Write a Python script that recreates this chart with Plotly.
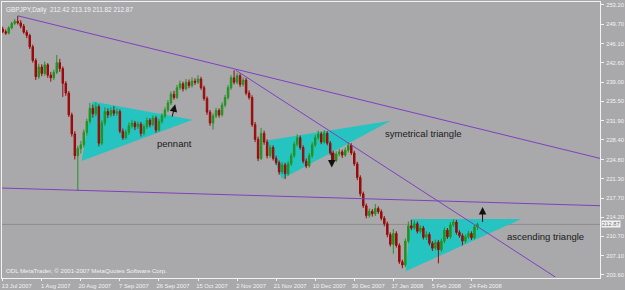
import plotly.graph_objects as go

# ---------------- data ----------------
opens = [248.8, 248.3, 248.0, 249.0, 249.8, 250.2, 249.9, 249.3, 248.2, 247.6,
         245.5, 243.0, 240.0, 241.8, 240.6, 242.2, 240.3, 239.8, 240.8, 242.6,
         241.5, 238.8, 237.0, 233.0, 229.5, 225.5, 226.8, 227.5, 229.8, 231.8,
         234.2, 233.2, 234.5, 227.8, 231.5, 233.6, 233.0, 233.8, 233.3, 233.6,
         230.0, 228.8, 229.8, 231.0, 231.5, 230.8, 231.3, 229.6, 230.8, 232.0,
         231.2, 232.4, 230.2, 231.8, 232.8, 233.9, 235.2, 236.8, 236.2, 238.0,
         238.7, 237.8, 239.0, 238.4, 239.2, 239.0, 239.6, 238.0, 236.0, 233.5,
         231.5, 232.8, 233.8, 233.0, 234.8, 236.2, 238.0, 239.8, 239.0, 240.2,
         238.6, 239.4, 237.0, 236.2, 231.2, 228.5, 225.0, 229.6, 228.0, 225.5,
         227.0, 225.0, 224.2, 222.5, 223.8, 222.2, 224.0, 225.5, 227.6, 228.8,
         227.0, 224.5, 223.6, 225.5, 227.5, 228.8, 229.5, 228.0, 229.6, 227.8,
         226.0, 224.6, 225.8, 226.2, 225.6, 226.5, 227.4, 226.0, 224.0, 221.5,
         218.5, 216.3, 214.5, 215.3, 214.8, 215.8, 215.2, 214.0, 213.0, 211.0,
         209.2, 211.2, 209.0, 206.0, 205.4, 209.8, 212.6, 212.2, 213.0, 211.6,
         212.2, 210.5, 211.0, 209.4, 208.5, 209.6, 208.2, 209.8, 211.8, 210.6,
         212.8, 213.3, 211.4, 210.8, 209.8, 210.6, 211.2, 210.4, 212.42]
highs = [249.2, 248.7, 249.3, 250.1, 250.6, 251.2, 250.4, 249.7, 248.6, 247.9,
         245.9, 243.4, 242.4, 242.3, 242.8, 242.5, 240.9, 241.3, 244.0, 243.3,
         241.9, 239.2, 237.4, 233.4, 230.0, 227.3, 228.2, 230.3, 232.3, 235.2,
         234.9, 235.3, 234.9, 232.0, 234.4, 234.2, 234.4, 234.6, 234.2, 234.0,
         230.5, 230.3, 231.6, 232.1, 231.9, 231.8, 231.7, 231.3, 232.5, 232.4,
         232.9, 232.8, 232.3, 233.3, 234.4, 235.7, 237.3, 237.4, 238.5, 239.3,
         239.1, 239.6, 239.5, 239.9, 239.7, 240.3, 240.0, 238.4, 236.4, 233.9,
         233.3, 234.3, 234.2, 235.3, 236.7, 238.5, 240.3, 241.2, 240.7, 240.6,
         239.9, 239.8, 237.5, 236.6, 231.7, 229.0, 230.6, 230.1, 228.5, 227.5,
         227.4, 225.5, 224.6, 224.3, 224.2, 224.5, 226.0, 228.1, 229.4, 229.2,
         227.4, 225.0, 226.0, 228.0, 229.3, 230.1, 229.9, 230.2, 230.0, 228.2,
         226.4, 226.3, 226.7, 226.6, 227.0, 227.9, 227.8, 226.4, 224.4, 221.9,
         218.9, 216.7, 215.8, 215.7, 216.6, 216.2, 215.6, 214.4, 213.4, 211.4,
         212.0, 211.6, 209.4, 206.4, 210.3, 213.4, 213.7, 213.6, 213.4, 212.7,
         212.6, 211.6, 211.4, 209.8, 210.1, 210.0, 210.3, 212.3, 212.2, 213.3,
         213.8, 213.7, 211.8, 211.2, 211.0, 211.7, 211.6, 212.8, 213.19]
lows = [248.0, 247.7, 247.8, 248.7, 249.5, 249.6, 248.9, 247.9, 247.1, 245.1,
        242.6, 239.4, 239.6, 240.1, 240.2, 239.8, 239.1, 239.4, 240.5, 240.9,
        236.3, 236.5, 232.6, 229.0, 224.8, 219.0, 225.9, 227.0, 229.2, 231.4,
        232.5, 232.8, 227.2, 227.4, 231.0, 232.4, 232.6, 232.8, 232.9, 229.6,
        228.4, 228.5, 229.3, 230.5, 230.2, 230.4, 229.0, 229.2, 230.4, 230.7,
        230.9, 229.7, 229.9, 231.4, 232.4, 233.5, 234.8, 235.8, 235.9, 237.6,
        237.3, 237.5, 237.9, 238.0, 238.5, 238.7, 237.6, 235.6, 233.0, 231.0,
        230.3, 232.4, 232.5, 232.7, 234.4, 235.8, 237.6, 238.6, 238.6, 238.1,
        238.2, 236.6, 235.8, 230.8, 228.0, 224.5, 224.7, 227.5, 225.0, 225.1,
        224.6, 223.8, 222.0, 222.1, 221.2, 221.8, 223.6, 225.1, 227.2, 226.6,
        224.1, 223.2, 223.3, 225.1, 227.1, 228.4, 227.6, 227.7, 227.4, 225.6,
        224.0, 224.3, 225.4, 225.1, 225.3, 226.1, 225.6, 223.6, 221.0, 218.0,
        215.9, 214.0, 214.1, 214.3, 214.4, 214.8, 213.6, 212.5, 210.5, 208.8,
        207.5, 208.6, 205.6, 204.8, 205.0, 209.4, 211.8, 211.9, 211.2, 211.2,
        210.1, 210.0, 209.0, 208.0, 208.1, 205.7, 207.8, 209.4, 210.2, 210.2,
        212.4, 211.0, 210.4, 209.0, 209.4, 210.2, 210.0, 210.1, 211.82]
closes = [248.3, 248.0, 249.0, 249.8, 250.2, 249.9, 249.3, 248.2, 247.6, 245.5,
          243.0, 240.0, 241.8, 240.6, 242.2, 240.3, 239.8, 240.8, 242.6, 241.5,
          238.8, 237.0, 233.0, 229.5, 225.5, 226.8, 227.5, 229.8, 231.8, 234.2,
          233.2, 234.5, 227.8, 231.5, 233.6, 233.0, 233.8, 233.3, 233.6, 230.0,
          228.8, 229.8, 231.0, 231.5, 230.8, 231.3, 229.6, 230.8, 232.0, 231.2,
          232.4, 230.2, 231.8, 232.8, 233.9, 235.2, 236.8, 236.2, 238.0, 238.7,
          237.8, 239.0, 238.4, 239.2, 239.0, 239.6, 238.0, 236.0, 233.5, 231.5,
          232.8, 233.8, 233.0, 234.8, 236.2, 238.0, 239.8, 239.0, 240.2, 238.6,
          239.4, 237.0, 236.2, 231.2, 228.5, 225.0, 229.6, 228.0, 225.5, 227.0,
          225.0, 224.2, 222.5, 223.8, 222.2, 224.0, 225.5, 227.6, 228.8, 227.0,
          224.5, 223.6, 225.5, 227.5, 228.8, 229.5, 228.0, 229.6, 227.8, 226.0,
          224.6, 225.8, 226.2, 225.6, 226.5, 227.4, 226.0, 224.0, 221.5, 218.5,
          216.3, 214.5, 215.3, 214.8, 215.8, 215.2, 214.0, 213.0, 211.0, 209.2,
          211.2, 209.0, 206.0, 205.4, 209.8, 212.6, 212.2, 213.0, 211.6, 212.2,
          210.5, 211.0, 209.4, 208.5, 209.6, 208.2, 209.8, 211.8, 210.6, 212.8,
          213.3, 211.4, 210.8, 209.8, 210.6, 211.2, 210.4, 212.42, 212.87]
bar_index = list(range(len(closes)))

date_tick_bars = [0, 13, 26, 39, 52, 65, 78, 91, 104, 117, 130, 143, 156]
date_tick_labels = ["13 Jul 2007", "1 Aug 2007", "20 Aug 2007", "7 Sep 2007",
                    "26 Sep 2007", "15 Oct 2007", "2 Nov 2007", "21 Nov 2007",
                    "10 Dec 2007", "30 Dec 2007", "17 Jan 2008", "5 Feb 2008",
                    "24 Feb 2008"]
price_ticks = [253.20, 249.70, 246.10, 242.60, 239.00, 235.50, 231.90, 228.40,
               224.80, 221.30, 217.70, 214.20, 210.70, 207.10, 203.60]
last_price = 212.87
header_text = "GBPJPY,Daily  212.42 213.19 211.82 212.87"
footer_text = "ODL MetaTrader, \u00a9 2001-2007 MetaQuotes Software Corp."

# trend lines: (bar, price) anchor pairs
trend_lines = [
    ((5.07, 251.2), (198.8, 225.0)),
    ((77.6, 241.2), (183.9, 203.2)),
    ((-0.56, 219.56), (199.1, 216.3)),
]
# chart-pattern triangles (bar, price) vertices
pennant = [(29.8, 235.44), (26.26, 224.53), (63.25, 232.11)]
sym_triangle = [(87.75, 228.29), (92.91, 221.2), (129.14, 231.93)]
asc_triangle = [(135.76, 213.87), (134.1, 204.24), (172.6, 213.87)]
# arrows: (tail bar, tail price, head bar, head price)
arrows = [(56.3, 232.42, 57.4, 234.96),
          (109.5, 226.35, 109.5, 223.33),
          (159.7, 213.02, 159.7, 216.05)]
labels = [("pennant", 57.2, 227.75),
          ("symetrical triangle", 140.2, 229.56),
          ("ascending triangle", 180.7, 210.65)]

BG = "#a9a9ab"
LIGHT = "#f2f2f2"
PURPLE = "#7f40bf"
CYAN = "#26c4c0"

fig = go.Figure()
fig.add_trace(go.Candlestick(
    x=bar_index, open=opens, high=highs, low=lows, close=closes,
    increasing=dict(line=dict(color="#229322", width=1), fillcolor="#229322"),
    decreasing=dict(line=dict(color="#9a0a0a", width=1), fillcolor="#9a0a0a"),
    whiskerwidth=0, showlegend=False, hoverinfo="skip"))

shapes = []
for pts in (pennant, sym_triangle, asc_triangle):
    path = "M {} {} L {} {} L {} {} Z".format(pts[0][0], pts[0][1], pts[1][0], pts[1][1], pts[2][0], pts[2][1])
    shapes.append(dict(type="path", path=path, xref="x", yref="y",
                       fillcolor=CYAN, line=dict(width=0), layer="below"))
for (x0, y0), (x1, y1) in trend_lines:
    shapes.append(dict(type="line", x0=x0, y0=y0, x1=x1, y1=y1, xref="x", yref="y",
                       line=dict(color=PURPLE, width=1), layer="above"))
shapes.append(dict(type="line", x0=0, x1=1, xref="paper", y0=last_price, y1=last_price,
                   yref="y", line=dict(color="#8c8c8c", width=1), layer="below"))

annotations = []
for tx, ty, hx, hy in arrows:
    annotations.append(dict(x=hx, y=hy, ax=tx, ay=ty, xref="x", yref="y", axref="x", ayref="y",
                            showarrow=True, arrowhead=2, arrowsize=1.5, arrowwidth=1,
                            arrowcolor="#111111", text=""))
for txt, lx, ly in labels:
    annotations.append(dict(x=lx, y=ly, xref="x", yref="y", text=txt, showarrow=False,
                            font=dict(family="Liberation Sans, Arial", size=9.5, color="#1a1a1a")))
annotations.append(dict(x=0, y=1, xref="paper", yref="paper", xanchor="left", yanchor="top",
                        xshift=2, yshift=-2, text=header_text, showarrow=False,
                        font=dict(family="Liberation Sans, Arial", size=6.4, color=LIGHT)))
annotations.append(dict(x=0, y=0, xref="paper", yref="paper", xanchor="left", yanchor="bottom",
                        xshift=2, yshift=2, text=footer_text, showarrow=False,
                        font=dict(family="Liberation Sans, Arial", size=6.1, color=LIGHT)))
annotations.append(dict(x=1, y=last_price, xref="paper", yref="y", xanchor="left",
                        xshift=1, text="{:.2f}".format(last_price), showarrow=False,
                        bgcolor="#f2f2f2", borderpad=0,
                        font=dict(family="Liberation Sans, Arial", size=5.8, color="#707070")))

fig.update_layout(
    width=625, height=290,
    margin=dict(l=1, r=23, t=1, b=10, pad=0),
    paper_bgcolor=BG, plot_bgcolor=BG,
    shapes=shapes, annotations=annotations,
    showlegend=False,
    xaxis=dict(range=[-0.232, 198.78], rangeslider=dict(visible=False),
               tickmode="array", tickvals=date_tick_bars, ticktext=date_tick_labels,
               ticks="outside", ticklen=2, tickcolor=LIGHT, showgrid=False, zeroline=False,
               showline=True, linecolor=LIGHT, linewidth=1, mirror=True,
               ticklabelshift=14, ticklabelstandoff=0,
               tickfont=dict(family="Liberation Sans, Arial", size=5.8, color=LIGHT)),
    yaxis=dict(range=[203.018, 253.745], side="right",
               tickmode="array", tickvals=price_ticks,
               ticktext=["{:.2f}".format(v) for v in price_ticks],
               ticks="outside", ticklen=3, tickcolor=LIGHT, showgrid=False, zeroline=False,
               showline=True, linecolor=LIGHT, linewidth=1, mirror=True,
               ticklabelstandoff=1,
               tickfont=dict(family="Liberation Sans, Arial", size=5.8, color=LIGHT)),
)

fig.write_html("out.html", config={"displayModeBar": False})
